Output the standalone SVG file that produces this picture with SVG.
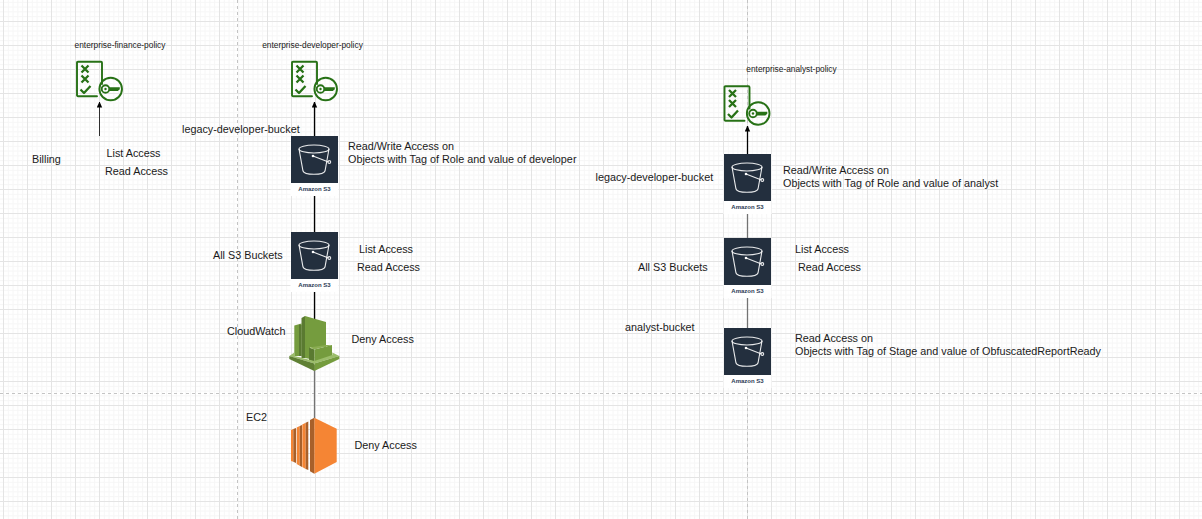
<svg xmlns="http://www.w3.org/2000/svg" width="1202" height="519" viewBox="0 0 1202 519">
<style>
text{font-family:"Liberation Sans",Arial,sans-serif;font-size:10.800px;fill:#1a1a1a}
.p{font-size:8.350px}
.b{stroke:#fff;stroke-width:1.100;fill:none;opacity:.9}
.pol{stroke:#277116;stroke-width:1.900;fill:none;stroke-linejoin:round;stroke-linecap:round}
.mk{stroke-width:2.300;stroke-linecap:butt}
.c{stroke:#000;fill:none}
.g{stroke:#737373;stroke-width:1.300;fill:none}
.brk{stroke:#c4c4c4;stroke-width:1;stroke-dasharray:3 3;fill:none}
.s3l{font-size:6px;font-weight:bold;fill:#2b3a55}
</style>
<defs>
<pattern id="grid" width="24" height="24" patternUnits="userSpaceOnUse" x="3" y="21">
<path d="M5.300 0V24M10.100 0V24M14.900 0V24M19.700 0V24M0 5.300H24M0 10.100H24M0 14.900H24M0 19.700H24" stroke="#f6f6f6" stroke-width="1" fill="none"/>
<path d="M.5 0V24M0 .5H24" stroke="#e4e4e4" stroke-width="1" fill="none"/>
</pattern>
<marker id="ah" markerWidth="6" markerHeight="6" refX="5.500" refY="3" orient="auto" markerUnits="userSpaceOnUse"><path d="M0 .3L6 3L0 5.700Z" fill="#000"/></marker>
<g id="s3">
<rect x="-0.500" y="0" width="48" height="60" fill="#fff"/>
<rect width="47" height="47" fill="#232f3e"/>
<ellipse class="b" cx="23" cy="13" rx="15" ry="4"/>
<path class="b" d="M8 13L12 35Q13 38.300 23 38.300Q33 38.300 34 35L38 13"/>
<circle cx="22" cy="20" r="1.300" fill="#fff"/>
<path class="b" d="M22 20L37.500 26"/>
<circle class="b" cx="38.300" cy="26" r="1.400"/>
<text class="s3l" x="23.500" y="55" text-anchor="middle">Amazon S3</text>
</g>
<g id="pol">
<path class="pol" d="M21 35.200H2Q1 35.200 1 34.200V1.700Q1 .7 2 .7H25Q26 .7 26 1.700V23"/>
<path class="pol mk" d="M5.500 4.500L12.500 11.500M12.500 4.500L5.500 11.500M5.500 14.500L12.500 21.500M12.500 14.500L5.500 21.500M4.500 28.500L8 32L14.500 25"/>
<circle class="pol" cx="34.700" cy="28" r="11.300"/>
<circle class="pol" cx="29.500" cy="28" r="3.800"/>
<circle cx="29.500" cy="28" r="1.200" fill="#277116"/>
<path d="M33 26.300H43.800V28.200L41.800 30H33Z" fill="#277116"/>
</g>
</defs>
<rect width="1202" height="519" fill="#fff"/>
<rect width="1202" height="519" fill="url(#grid)"/>
<g id="page-breaks">
<path class="brk" d="M237.500 0V519M747.500 0V519M0 393.500H1202"/>
</g>
<g id="connectors">
<path class="c" stroke-width="0.800" d="M99.500 136V102" marker-end="url(#ah)"/>
<path class="c" stroke-width="1.300" d="M314.500 136V102" marker-end="url(#ah)"/>
<path class="c" stroke-width="1.300" d="M747.500 154V126" marker-end="url(#ah)"/>
<path class="c" stroke-width="1.300" d="M314.500 196V232"/>
<path class="c" stroke-width="1.300" d="M314.500 292V320"/>
<path class="g" d="M314.500 365V418"/>
<path class="g" d="M747.500 213V238"/>
<path class="g" d="M747.500 297V328"/>
</g>
<g id="finance-policy"><use href="#pol" x="76" y="61"/><text class="p" x="120" y="48" text-anchor="middle">enterprise-finance-policy</text></g>
<g id="developer-policy"><use href="#pol" x="291" y="61"/><text class="p" x="312.500" y="48" text-anchor="middle">enterprise-developer-policy</text></g>
<g id="analyst-policy"><use href="#pol" x="723.500" y="85.500"/><text class="p" x="791.500" y="72" text-anchor="middle">enterprise-analyst-policy</text></g>
<g id="billing"><text x="32" y="163">Billing</text></g>
<g id="finance-access"><text x="106.500" y="157">List Access</text><text x="105" y="175">Read Access</text></g>
<g id="legacy-dev-bucket"><use href="#s3" x="291" y="136"/><text x="182" y="133">legacy-developer-bucket</text><text x="348" y="150">Read/Write Access on</text><text x="348" y="163">Objects with Tag of Role and value of developer</text></g>
<g id="all-buckets-dev"><use href="#s3" x="291" y="232"/><text x="213" y="259">All S3 Buckets</text><text x="359" y="253">List Access</text><text x="357" y="271">Read Access</text></g>
<g id="cloudwatch">
<path d="M294.300 325.500L301.500 323.500V356H294.300Z" fill="#759c3e"/>
<path d="M299 324.500L301.500 325V356H299Z" fill="#5a7a31"/>
<path d="M301.500 318L305 316V358H301.500Z" fill="#5a7a31"/>
<path d="M305 316L326 322V347H310V359L305 358Z" fill="#759c3e"/>
<path d="M309 347.500L314.500 349.500V362L309 360Z" fill="#5a7a31"/>
<path d="M314.500 349.500L332 345V356L314.500 362Z" fill="#759c3e"/>
<path d="M309 347.500L326 345H332L314.500 349.500Z" fill="#8aad52"/>
<path d="M289.300 356L294.300 352.500V356L314.300 361L332.300 355V352.500L339.300 356L314.300 363.500Z" fill="#9bbd6a"/>
<path d="M289.300 356L314.300 363.500V371L289.300 359Z" fill="#5f8034"/>
<path d="M339.300 356L314.300 363.500V371L339.300 359Z" fill="#759c3e"/>
<text x="227" y="335">CloudWatch</text><text x="351.500" y="343">Deny Access</text></g>
<g id="ec2">
<path d="M314.300 417.700L336.700 428.700V462L314.300 473.700Z" fill="#f58534"/>
<path d="M314.300 417.700L310 420V471.300L314.300 473.700Z" fill="#a8602a"/>
<path d="M302.300 424.500L305.700 422.700V469L302.300 467Z" fill="#f58534"/>
<path d="M305.700 422.700L308.300 421.500V470L305.700 469Z" fill="#a8602a"/>
<path d="M296.700 427.500L299.700 426V465.700L296.700 464Z" fill="#f58534"/>
<path d="M299.700 426L302 425V467L299.700 465.700Z" fill="#a8602a"/>
<path d="M291 430L293.300 429V461.800L291 461Z" fill="#f58534"/>
<path d="M293.300 429L296 428V463L293.300 461.800Z" fill="#a8602a"/>
<text x="246" y="421">EC2</text><text x="354.500" y="449">Deny Access</text></g>
<g id="legacy-analyst-bucket"><use href="#s3" x="724" y="154"/><text x="595.500" y="181">legacy-developer-bucket</text><text x="783" y="174">Read/Write Access on</text><text x="783" y="187">Objects with Tag of Role and value of analyst</text></g>
<g id="all-buckets-analyst"><use href="#s3" x="724" y="238"/><text x="638" y="271">All S3 Buckets</text><text x="795" y="253">List Access</text><text x="798" y="271">Read Access</text></g>
<g id="analyst-bucket"><use href="#s3" x="724" y="328"/><text x="625" y="331">analyst-bucket</text><text x="795" y="342">Read Access on</text><text x="795" y="355">Objects with Tag of Stage and value of ObfuscatedReportReady</text></g>
</svg>
